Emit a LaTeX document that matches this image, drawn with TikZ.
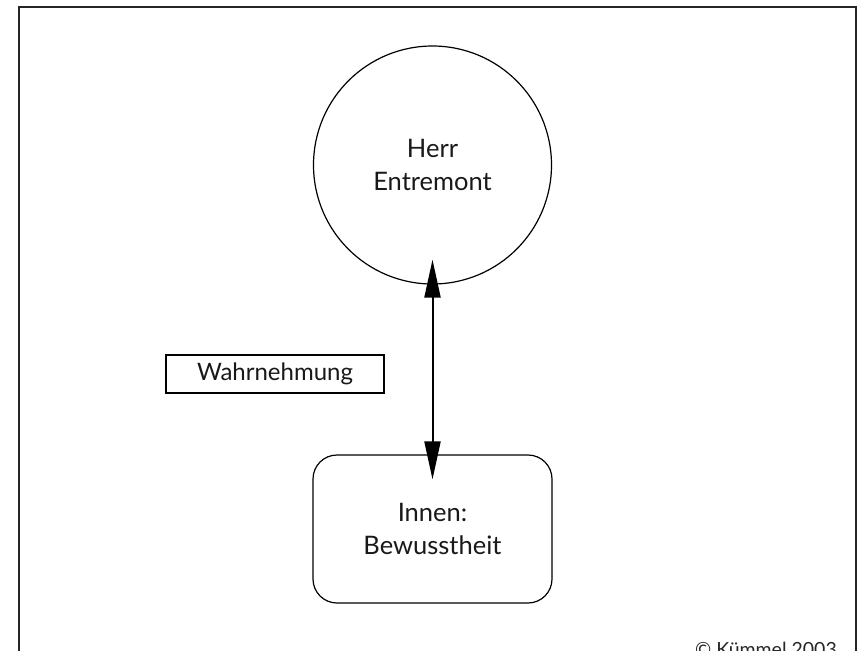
\documentclass[tikz,border=0pt]{standalone}
\usepackage{fontspec}
\setmainfont{Lato}
\usetikzlibrary{arrows.meta}
\tikzset{
  frameline/.style={draw=black!85, line width=2pt},
  shapeline/.style={draw=black, line width=1.2pt},
  bigtext/.style={font=\fontsize{25.5}{33}\selectfont, align=center, text=black!90},
  person/.style={shapeline, circle, minimum size=238pt, inner sep=0pt, bigtext},
  inner/.style={shapeline, rounded corners=24pt, minimum width=239pt, minimum height=148pt, inner sep=0pt, bigtext},
  labelbox/.style={draw=black, line width=1.2pt, minimum width=218pt, minimum height=38pt, inner sep=0pt, font=\fontsize{24}{28}\selectfont, text=black!90},
  link/.style={line width=2pt, {Triangle[length=38pt,width=16pt]}-{Triangle[length=38pt,width=16pt]}},
  note/.style={font=\fontsize{19.5}{22}\selectfont, text=black!85, inner sep=0pt}
}
\begin{document}
\begin{tikzpicture}[x=1pt, y=-1pt]
  \useasboundingbox (0,0) rectangle (863,651);
  \clip (0,0) rectangle (863,651);
  % outer frame, running past the lower edge
  \draw[frameline] (19,7) rectangle (856,700);
  % nodes
  \node[person] (entremont) at (432.5,165) {Herr\\Entremont};
  \node[inner] (bewusst) at (432.5,529) {Innen:\\Bewusstheit};
  \node[labelbox] (wahr) at (275,374) {Wahrnehmung};
  % two-way perception link, tips reaching into both shapes
  \draw[link] ([yshift=25pt]entremont.south) -- ([yshift=-25pt]bewusst.north);
  % credit line
  \node[note, anchor=base east] (credit) at (837,656) {© Kümmel 2003};
\end{tikzpicture}
\end{document}
